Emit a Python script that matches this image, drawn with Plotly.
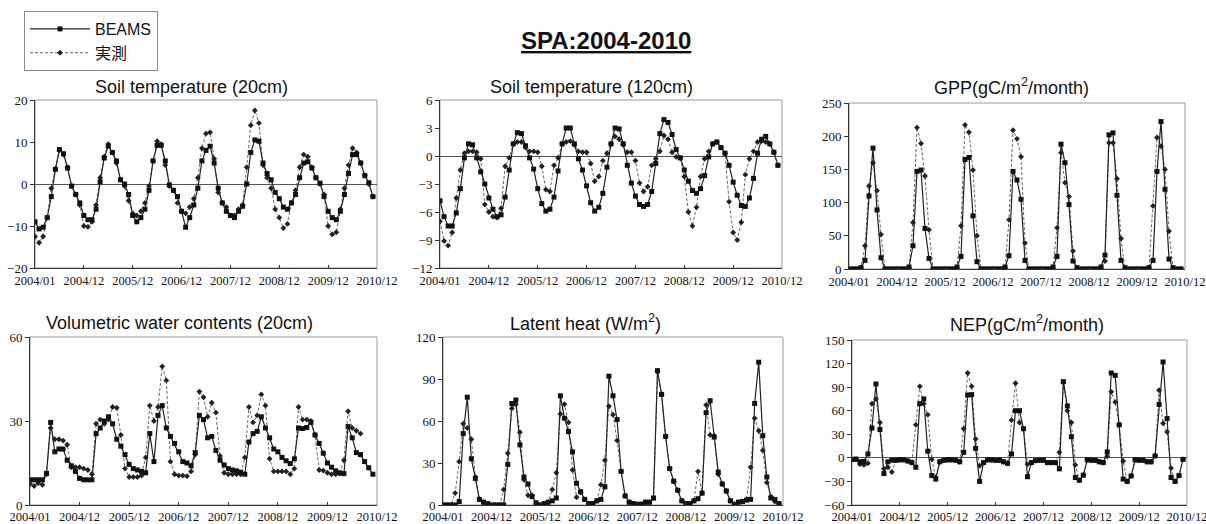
import plotly.graph_objects as go

W, H = 1206, 524

# Monthly series, 2004/01 .. 2010/12 (84 months)
months = list(range(84))
tick_pos = [0, 12, 24, 36, 48, 60, 72, 84]
tick_text = ["2004/01", "2004/12", "2005/12", "2006/12", "2007/12", "2008/12", "2009/12", "2010/12"]

# Soil temperature (20cm)
st20_beams = [-9, -10.7, -10.3, -8, -3, 3.5, 8.2, 7.2, 3.8, -0.5, -2.5, -4.5,
              -7.5, -8.5, -8.5, -6, 0.5, 6.2, 9, 7.5, 5.5, 1, 0, -2.5,
              -7.5, -9, -8, -6, -1.5, 5.5, 9.2, 9.2, 5.5, -0.2, -1.5, -3,
              -6.5, -10.3, -8, -5, -1, 5.5, 8, 9, 5, -1, -4.5, -6.5,
              -7.5, -8, -6.5, -5.3, 0, 7.5, 10.5, 10.2, 5, 2.5, 1, -2,
              -3.5, -5.5, -6, -4.5, -2.5, 1.5, 5, 5.3, 3.8, 1.5, 0.2, -3,
              -6.5, -8, -8.5, -6.5, -2.5, 2.5, 7, 7, 5, 2, 0.3, -3]
st20_obs = [-12.5, -14, -12.5, -8, -1, 3.5, 8, 7, 4, -0.5, -2.5, -5,
            -10, -10.2, -9, -5, 1.5, 6.5, 9.5, 7.5, 5, 1, -0.5, -4,
            -7, -7.5, -6.5, -4.5, -0.5, 5.5, 10.2, 9.5, 4.5, -0.5, -1.5, -4.5,
            -6.5, -7, -5.5, -3.5, 1.5, 8.5, 12, 12.3, 6, -2, -4.5, -5.5,
            -7.5, -7.5, -6, -5, 4, 14, 17.5, 14.5, 4.5, 1.5, -1, -6,
            -8, -10.5, -9.5, -4.5, -1.5, 4, 7, 6.5, 4, 1.5, 0, -2.5,
            -10, -12, -11.5, -6, -1, 4.5, 8.5, 7.5, 5, 2, 0, -3]

# Soil temperature (120cm)
st120_beams = [-4.8, -6.5, -7.5, -7.5, -6.1, -3.5, -0.2, 1.3, 1.2, -0.2, -1.7, -3,
               -4.5, -5.7, -6.5, -6.3, -4.4, -1.5, 1.3, 2.5, 2.4, 1.1, -0.2, -1.4,
               -3.5, -5.1, -5.9, -5.7, -4.4, -1.6, 1.3, 3.0, 3.0, 1.3, -0.3, -1.5,
               -3.2, -5.0, -5.9, -5.5, -4.0, -1.2, 1.3, 3.0, 2.9, 1.3, -1.0, -2.9,
               -4.3, -5.2, -5.4, -5.2, -3.8, -0.8, 2.4, 3.9, 3.6, 2.3, 0.7, -0.2,
               -1.5, -2.7, -3.7, -4.0, -3.5, -2.1, -0.1, 1.3, 1.5, 0.9, 0.3, -1.0,
               -2.8, -4.2, -5.3, -5.4, -4.5, -2.4, 0.3, 1.8, 2.1, 1.3, 0.4, -1.0]
st120_obs = [-7.0, -9.1, -9.6, -8.2, -4.5, -1.5, 0.3, 0.5, 0.5, 0.4, -0.3, -5.2,
             -6.0, -6.5, -6.6, -5.6, -1.1, -0.2, 1.3, 1.5, 1.5, 0.9, 0.5, 0.5,
             0.4, -1.1, -3.6, -3.8, -1.0, -0.2, 1.3, 1.5, 1.6, 1.2, 0.5, 0.4,
             0.4, -0.8, -2.7, -2.2, -0.5, 0.3, 1.3, 2.1, 1.8, 1.2, 0.4, 0.4,
             -0.5, -2.9, -3.8, -3.3, -1.0, -0.3, 0.5, 2.2, 1.8, 0.4, -0.1, -0.2,
             -2.2, -6.0, -7.5, -5.5, -2.2, -0.3, 0.5, 1.3, 1.5, 0.9, 0.3, -4.9,
             -8.2, -9.0, -7.1, -2.0, -0.3, 0.5, 1.5, 1.6, 1.5, 1.3, 0.4, -1.0]

# GPP (gC/m2/month)
gpp_beams = [0, 0, 0, 2, 13, 110, 182, 89, 17, 0, 0, 0,
             0, 0, 0, 3, 35, 147, 149, 61, 16, 0, 0, 0,
             0, 0, 0, 3, 19, 165, 168, 80, 11, 0, 0, 0,
             0, 0, 0, 3, 20, 147, 134, 105, 13, 0, 0, 0,
             0, 0, 0, 3, 19, 188, 160, 97, 12, 2, 0, 0,
             0, 0, 0, 3, 21, 202, 205, 111, 13, 2, 0, 0,
             0, 0, 0, 2, 13, 147, 222, 120, 15, 2, 0, 0]
gpp_obs = [0, 0, 0, 2, 35, 125, 160, 118, 52, 0, 0, 0,
           0, 0, 0, 2, 70, 213, 189, 140, 59, 0, 0, 0,
           0, 0, 0, 2, 65, 217, 206, 149, 50, 0, 0, 0,
           0, 0, 0, 2, 74, 209, 196, 169, 39, 0, 0, 0,
           0, 0, 0, 2, 62, 175, 130, 109, 27, 0, 0, 0,
           0, 0, 0, 2, 12, 190, 190, 136, 46, 0, 0, 0,
           0, 0, 0, 2, 95, 198, 185, 150, 57, 0, 0, 0]

# Volumetric water contents (20cm)
vwc_beams = [9, 9, 9, 9, 11.3, 29.5, 19, 20, 20, 16, 14, 12,
             9.5, 9, 9, 9, 25.5, 27.5, 30, 31.5, 29, 23.5, 21, 18,
             14.5, 13, 12.5, 12, 11.5, 25.5, 15.5, 32, 35.5, 27.5, 24.5, 22,
             19, 15.5, 15, 14, 18.7, 32, 30.5, 24, 24.5, 19.5, 16, 14.3,
             13, 12.5, 12.2, 11.7, 11, 22.5, 25.5, 26.3, 31.5, 27.5, 24, 20,
             19, 17, 15.8, 14.8, 16.5, 27.5, 27.3, 27.7, 29.5, 25, 22, 18.5,
             15, 13.5, 12.2, 11.5, 11.2, 28, 24, 18.7, 18, 15.5, 13.3, 11]
vwc_obs = [7.5, 6.8, 7.8, 7.2, 11, 27.5, 23.5, 23.5, 23, 21.5, 13.5, 13.5,
           13.5, 13, 12.5, 11, 29, 30.5, 29, 30.5, 35, 34.7, 25, 13,
           10, 10, 10, 10.5, 17, 35.5, 30, 35, 49.5, 44.5, 15.5, 11,
           10.5, 10.5, 10.3, 12, 18, 40.5, 38.5, 31.5, 36.5, 33, 17.5, 11.5,
           11, 11, 11, 11, 17, 35, 29.5, 32, 39.5, 35.5, 16.5, 12,
           12, 12, 12, 11, 13, 35, 30.5, 30.5, 30, 25, 12.5, 12.3,
           11.5, 11, 11, 11.2, 16, 33.5, 27.5, 26.5, 25.5, None, None, None]

# Latent heat (W/m2)
le_beams = [0, 0, 0, 0, 2.5, 51, 77, 33, 19, 4, 2, 1,
            0, 0, 0, 0, 29, 72.5, 75, 43, 20, 15, 6, 1.5,
            0, 1, 2, 3, 5, 78, 62, 52.5, 38, 15.5, 9.5, 4,
            1, 1, 3, 4, 13, 92, 78, 61, 24, 6.5, 2, 1,
            0.5, 0.5, 2, 2, 5, 96, 79, 49, 26, 17, 10.5, 3,
            1, 1, 3, 4.5, 8.5, 66, 74.5, 48.5, 23.5, 15, 10, 3,
            0.5, 2, 2.5, 3.5, 4, 72.5, 102, 49.5, 20, 5, 4, 1]
le_obs = [0, 0, 0, 8.5, 31, 58, 55, 47, 20, 4, 2, 1,
          0, 0, 0, 11, 37, 69, 72, 52, 18, 7, 7, 1.5,
          0, 1, 2, 11, 23, 65, 72, 59, 25, 5.5, 9, 4,
          1, 1, 3, 14.5, 32, 70.5, 64.5, 46, 24, 6.5, 2, 1,
          0.5, 0.5, 2, 2, 5, 95, 79, 49, 26, 17, 10.5, 3,
          1, 1, 3, 24, 8.5, 71.5, 50, 49.5, 22, 15, 10, 3,
          0.5, 2, 2.5, 4, 27, 62, 53, 39, 16, 6, 2.5, 1]

# NEP (gC/m2/month)
nep_beams = [-2, -1.5, -5, -4.5, 5, 38, 94, 36, -20, -5, -3, -3,
             -2.5, -2.5, -4, -6, -12, 69, 75, 8.5, -22.5, -27, -5, -3,
             -2.5, -2.5, -3, -5, 7, 80, 80.5, 12, -30, -6, -2.5, -2.5,
             -3, -3, -5, -7, 5, 60, 60, 37, -24, -6, -3.5, -3,
             -3, -6, -6, -6, -14, 97, 66, 27, -25, -28.5, -22, -2.5,
             -3, -3, -5, -6, 7.5, 108, 105, 42, -27, -30, -23, -2.5,
             -3, -3, -5, -5, 2.5, 68, 122, 50, -25, -30, -22.5, -2]
nep_obs = [-2, -2, -8, -9, -7, 69, 75, 45, -14, -12, -18, -3,
           -2.5, -2.5, -4, -6, 42, 91, 69, 55, -2, -25, -5, -3,
           -2.5, -2.5, -3, -5, 37, 108, 91, 24, -10, -6, -2.5, -2.5,
           -3, -3, -5, -7, 48, 95, 45, 37, -8, -6, -3.5, -3,
           -3, -6, -6, -6, 7, 96, 60, 45, -9, -28.5, -22, -2.5,
           -3, -3, -5, -6, 2, 84, 71, 42, -4, -30, -23, -2.5,
           -3, -3, -5, -5, 2.5, 86, 44, 33, -13, -30, -22.5, -2]

SANS = "Liberation Sans, Arial, Noto Sans CJK JP, sans-serif"
SERIF = "Liberation Serif, Times New Roman, serif"


def px_x(p):
    return p / W


def px_y(p):
    return 1 - p / H


# panel: title, beams, obs, y-range, dtick, zero line, box (left, right, top, bottom in px),
# title position, x tick label standoff
panels = [
    ("Soil temperature (20cm)", st20_beams, st20_obs, [-20, 20], 10, True, (35, 377, 100, 268), (191, 87), 1),
    ("Soil temperature (120cm)", st120_beams, st120_obs, [-12, 6], 3, True, (440, 782, 100, 268), (591, 87), 1),
    ("GPP(gC/m<sup>2</sup>/month)", gpp_beams, gpp_obs, [0, 250], 50, False, (849, 1185, 103, 269), (1011, 87), 1),
    ("Volumetric water contents (20cm)", vwc_beams, vwc_obs, [0, 60], 30, False, (30, 377, 337, 505), (180, 323), 0),
    ("Latent heat (W/m<sup>2</sup>)", le_beams, le_obs, [0, 120], 30, False, (443, 783, 337, 505), (585, 322), 0),
    ("NEP(gC/m<sup>2</sup>/month)", nep_beams, nep_obs, [-60, 150], 30, True, (852, 1187, 340, 505), (1027, 323), 0),
]

fig = go.Figure()
layout = dict(
    width=W, height=H,
    margin=dict(l=0, r=0, t=0, b=0, autoexpand=False),
    paper_bgcolor="white", plot_bgcolor="white",
    showlegend=True,
    legend=dict(x=px_x(24), y=px_y(11), xanchor="left", yanchor="top",
                bordercolor="#8a8a8a", borderwidth=1, bgcolor="white",
                font=dict(family=SANS, size=16, color="#111"),
                itemwidth=60, tracegroupgap=0),
    annotations=[], shapes=[],
)

for i, (title, beams, obs, yr, dt, zero, box, tpos, standoff) in enumerate(panels):
    n = i + 1
    xa = "x" if n == 1 else f"x{n}"
    ya = "y" if n == 1 else f"y{n}"
    l, r, t, b = box
    fig.add_trace(go.Scatter(
        x=months, y=obs, xaxis=xa, yaxis=ya, name="実測", legendgroup="obs", legendrank=2,
        showlegend=(n == 1), mode="lines+markers", connectgaps=False,
        line=dict(color="#666", width=1, dash="3px,2px"),
        marker=dict(symbol="diamond", size=4.5, color="#222"),
    ))
    fig.add_trace(go.Scatter(
        x=months, y=beams, xaxis=xa, yaxis=ya, name="BEAMS", legendgroup="beams", legendrank=1,
        showlegend=(n == 1), mode="lines+markers",
        line=dict(color="#222", width=1.2),
        marker=dict(symbol="square", size=5, color="#111"),
    ))
    layout[f"xaxis{'' if n == 1 else n}"] = dict(
        domain=[px_x(l), px_x(r)], anchor=ya, range=[0, 84], automargin=False,
        tickmode="array", tickvals=tick_pos, ticktext=tick_text,
        ticks="inside", ticklen=3, tickcolor="#333",
        ticklabeloverflow="allow", ticklabelstandoff=standoff,
        showline=True, linecolor="#333", linewidth=1, mirror=False,
        showgrid=False, zeroline=False,
        tickfont=dict(family=SERIF, size=12.5, color="#111"),
    )
    layout[f"yaxis{'' if n == 1 else n}"] = dict(
        domain=[px_y(b), px_y(t)], anchor=xa, range=yr, dtick=dt, tick0=yr[0], automargin=False,
        ticks="outside", ticklen=4, tickcolor="#333",
        showline=True, linecolor="#333", linewidth=1, mirror=False,
        showgrid=False, zeroline=zero, zerolinecolor="#555", zerolinewidth=1,
        tickfont=dict(family=SERIF, size=13, color="#111"),
    )
    layout["shapes"].append(dict(
        type="rect", xref=f"{xa} domain", yref=f"{ya} domain",
        x0=0, x1=1, y0=0, y1=1, line=dict(color="#9a9a9a", width=1), layer="below",
    ))
    layout["annotations"].append(dict(
        text=title, x=px_x(tpos[0]), y=px_y(tpos[1]), xref="paper", yref="paper",
        xanchor="center", yanchor="middle", showarrow=False,
        font=dict(family=SANS, size=18, color="#111"),
    ))

layout["annotations"].append(dict(
    text="<b><u>SPA:2004-2010</u></b>", x=px_x(606), y=px_y(41), xref="paper", yref="paper",
    xanchor="center", yanchor="middle", showarrow=False,
    font=dict(family=SANS, size=24, color="#111"),
))

fig.update_layout(**layout)
fig.write_html("out.html")
